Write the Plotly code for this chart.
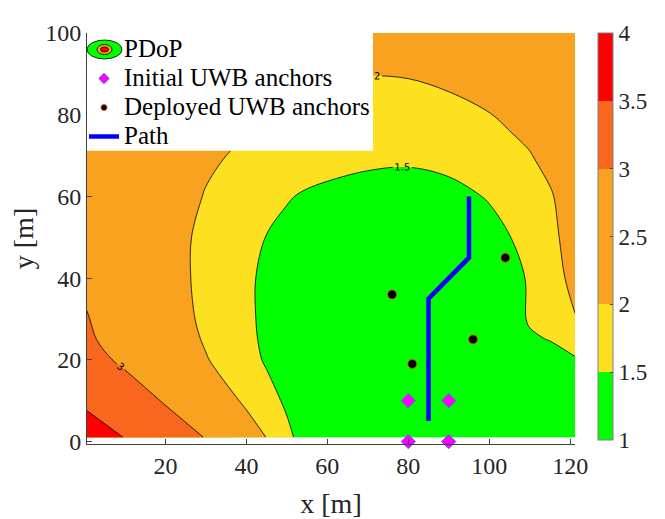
## PDoP contour map with UWB anchors and path

import plotly.graph_objects as go

x_grid = [0.6, 10, 20, 30, 40, 45, 50, 55, 60, 70, 80, 90, 100, 105, 110, 115, 121.2]
y_grid = [1, 10, 20, 25, 30, 40, 50, 60, 70, 80, 90, 100]

# PDoP values, one row per y_grid entry
pdop = [
    [4.4, 3.98, 3.48, 2.97, 2.3, 1.99, 1.6, 1.3, 1.2, 1.12, 1.08, 1.08, 1.12, 1.16, 1.2, 1.25, 1.32],      # y=1
    [3.85, 3.45, 2.93, 2.45, 1.9, 1.66, 1.43, 1.3, 1.2, 1.1, 1.05, 1.05, 1.1, 1.14, 1.2, 1.26, 1.35],     # y=10
    [3.3, 2.85, 2.45, 2.03, 1.66, 1.45, 1.32, 1.24, 1.18, 1.1, 1.04, 1.04, 1.1, 1.18, 1.28, 1.38, 1.48],  # y=20
    [3.1, 2.7, 2.33, 1.95, 1.6, 1.42, 1.32, 1.24, 1.18, 1.1, 1.04, 1.04, 1.12, 1.3, 1.46, 1.51, 1.6],     # y=25
    [3.03, 2.62, 2.27, 1.9, 1.57, 1.42, 1.32, 1.24, 1.18, 1.1, 1.05, 1.06, 1.18, 1.36, 1.53, 1.72, 1.98], # y=30
    [2.88, 2.55, 2.2, 1.88, 1.56, 1.43, 1.33, 1.25, 1.2, 1.12, 1.08, 1.1, 1.22, 1.37, 1.54, 1.82, 2.12],  # y=40
    [2.8, 2.5, 2.18, 1.9, 1.62, 1.49, 1.39, 1.31, 1.26, 1.18, 1.15, 1.2, 1.36, 1.49, 1.64, 1.9, 2.17],    # y=50
    [2.75, 2.45, 2.2, 1.98, 1.73, 1.63, 1.53, 1.45, 1.4, 1.33, 1.3, 1.37, 1.53, 1.65, 1.8, 1.96, 2.22],   # y=60
    [2.72, 2.45, 2.22, 2.06, 1.94, 1.86, 1.79, 1.72, 1.67, 1.6, 1.58, 1.64, 1.8, 1.89, 1.98, 2.12, 2.28], # y=70
    [2.72, 2.5, 2.32, 2.18, 2.07, 2.03, 1.98, 1.93, 1.89, 1.84, 1.85, 1.91, 1.99, 2.07, 2.15, 2.25, 2.38],# y=80
    [2.75, 2.58, 2.43, 2.3, 2.2, 2.15, 2.11, 2.07, 2.04, 2.01, 2.02, 2.07, 2.14, 2.2, 2.27, 2.36, 2.47],  # y=90
    [2.8, 2.65, 2.53, 2.42, 2.34, 2.3, 2.26, 2.23, 2.2, 2.17, 2.18, 2.22, 2.28, 2.33, 2.39, 2.46, 2.56],  # y=100
]

init_x = [80, 90, 80, 90]
init_y = [0, 0, 10, 10]
deployed_x = [76, 81, 96, 104]
deployed_y = [36, 19, 25, 45]
path_x = [85, 85, 95, 95]
path_y = [5, 35, 45, 60]

cbar_ticks = [1, 1.5, 2, 2.5, 3, 3.5, 4]

GREEN = '#00FF00'
YELLOW = '#FDE01F'
ORANGE = '#F9A21F'
DORANGE = '#F9661D'
RED = '#FF0000'
MAGENTA = '#FF00FF'
FONT = 'Liberation Serif'
SMOOTH = 1.0

# page body has an 8px margin, so the figure is drawn 8px smaller
W, H = 657, 511
L, T, PW, PH = 79, 25, 488, 411

# fill colours; plotly maps the scale from start-size/2 to end+size/2
fill_scale = [
    [0, GREEN], [1/12, GREEN], [1/12, YELLOW], [3/12, YELLOW],
    [3/12, ORANGE], [7/12, ORANGE], [7/12, DORANGE], [11/12, DORANGE],
    [11/12, RED], [1, RED],
]
# colour bar as in the original figure (range 1..4)
cbar_scale = [
    [0, GREEN], [1/6, GREEN], [1/6, YELLOW], [2/6, YELLOW],
    [2/6, ORANGE], [4/6, ORANGE], [4/6, DORANGE], [5/6, DORANGE],
    [5/6, RED], [1, RED],
]


def leg(text):
    return f'<span style="font-family:Liberation Serif,serif;font-size:25px">{text}</span>'


fig = go.Figure()

fig.add_trace(go.Contour(
    x=x_grid, y=y_grid, z=pdop,
    colorscale=fill_scale, showscale=False,
    contours=dict(start=1.5, end=4, size=0.5, coloring='fill', showlines=False),
    line=dict(width=0, smoothing=SMOOTH),
    hoverinfo='skip', showlegend=False,
))

# labelled iso-lines 2,3,4 and 1.5
for start, end, size in [(2, 4, 1), (1.5, 1.5, 1)]:
    fig.add_trace(go.Contour(
        x=x_grid, y=y_grid, z=pdop, showscale=False,
        contours=dict(start=start, end=end, size=size, coloring='none',
                      showlabels=True,
                      labelfont=dict(size=10, color='black', family='DejaVu Sans')),
        line=dict(color='black', width=0.8, smoothing=SMOOTH),
        hoverinfo='skip', showlegend=False,
    ))

fig.add_trace(go.Scatter(
    x=init_x, y=init_y, mode='markers', showlegend=False,
    marker=dict(symbol='diamond', size=11, color=MAGENTA,
                line=dict(color='#4A6CF0', width=1)),
    cliponaxis=False,
))
fig.add_trace(go.Scatter(
    x=deployed_x, y=deployed_y, mode='markers', showlegend=False,
    marker=dict(symbol='circle', size=9, color='black',
                line=dict(color='#D9541A', width=1)),
))
fig.add_trace(go.Scatter(
    x=path_x, y=path_y, mode='lines', showlegend=False,
    line=dict(color='#0000FF', width=4.5),
))

# legend entries (smaller symbols than on the map)
fig.add_trace(go.Scatter(x=[None], y=[None], mode='markers', name=leg('PDoP'),
                         marker=dict(size=1, color='rgba(0,0,0,0)')))
fig.add_trace(go.Scatter(x=[None], y=[None], mode='markers', name=leg('Initial UWB anchors'),
                         marker=dict(symbol='diamond', size=8, color=MAGENTA,
                                     line=dict(color='#4A6CF0', width=1))))
fig.add_trace(go.Scatter(x=[None], y=[None], mode='markers', name=leg('Deployed UWB anchors'),
                         marker=dict(symbol='circle', size=6, color='black',
                                     line=dict(color='#D9541A', width=1))))
fig.add_trace(go.Scatter(x=[None], y=[None], mode='lines', name=leg('Path'),
                         line=dict(color='#0000FF', width=4.5)))

# colour bar
fig.add_trace(go.Scatter(
    x=[-50], y=[-50], mode='markers', showlegend=False, hoverinfo='skip',
    marker=dict(color=[1], cmin=1, cmax=4, colorscale=cbar_scale, showscale=True,
                colorbar=dict(thickness=15, len=407, lenmode='pixels',
                              x=(590 - L) / PW, xanchor='left', xpad=0,
                              y=1, yanchor='top', ypad=0,
                              tickvals=cbar_ticks, ticks='inside', ticklen=3,
                              tickcolor='#404040',
                              outlinecolor='#808080', outlinewidth=1,
                              tickfont=dict(family=FONT, size=23, color='#262626'))),
))


def px_x(p):
    return (p - L) / PW


def px_y(p):
    return 1 - (p - T) / PH


# legend background and PDoP icon
shapes = [dict(type='rect', xref='paper', yref='paper',
               x0=0, x1=px_x(365), y0=px_y(142.7), y1=1,
               fillcolor='white', line=dict(width=0), layer='above')]
icon_x, icon_y = 96.5, 41.5
for hw, hh, col in [(17.5, 9.5, GREEN), (7.5, 5, ORANGE), (4, 2.5, RED)]:
    shapes.append(dict(type='circle', xref='paper', yref='paper',
                       x0=px_x(icon_x - hw), x1=px_x(icon_x + hw),
                       y0=px_y(icon_y + hh), y1=px_y(icon_y - hh),
                       fillcolor=col, line=dict(color='black', width=0.8), layer='above'))

fig.update_layout(
    width=W, height=H,
    margin=dict(l=L, r=W - L - PW, t=T, b=H - T - PH),
    plot_bgcolor='white', paper_bgcolor='white',
    font=dict(family=FONT, size=24, color='#262626'),
    shapes=shapes,
    legend=dict(x=-3 / PW, y=1 + 3 / PH, xanchor='left', yanchor='top',
                bgcolor='rgba(0,0,0,0)',
                borderwidth=0, font=dict(family=FONT, size=20, color='black'),
                tracegroupgap=0),
    xaxis=dict(range=[0.6, 121.2], tickvals=[20, 40, 60, 80, 100, 120],
               ticks='inside', ticklen=5, tickcolor='#404040',
               showline=True, linecolor='#404040', linewidth=1,
               showgrid=False, zeroline=False, automargin=False,
               title=dict(text='x [m]', font=dict(size=28), standoff=15)),
    yaxis=dict(range=[-0.6, 100], tickvals=[0, 20, 40, 60, 80, 100],
               ticks='inside', ticklen=5, tickcolor='#404040',
               showline=True, linecolor='#404040', linewidth=1,
               showgrid=False, zeroline=False, automargin=False,
               title=dict(text='y [m]', font=dict(size=28), standoff=27)),
)

fig.write_html("out.html")
